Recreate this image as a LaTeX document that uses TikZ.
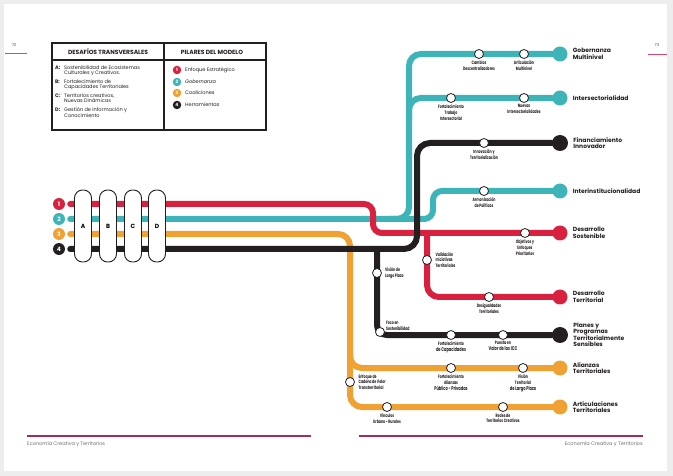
\documentclass[tikz,border=0pt]{standalone}
\usepackage{fontspec}
\setmainfont{Poppins}
\newfontfamily\narrowfont[FakeStretch=0.66]{Poppins}
\usetikzlibrary{positioning,backgrounds}
\definecolor{Rojo}{HTML}{D8213F}
\definecolor{Turq}{HTML}{3DB4B7}
\definecolor{Naranja}{HTML}{F0A133}
\definecolor{Negro}{HTML}{231F20}
\definecolor{Vino}{HTML}{9E2F5B}
\definecolor{Rosa}{HTML}{D9466E}
\definecolor{Gris}{HTML}{EDEDED}
\definecolor{Texto}{HTML}{6F6F6F}
\newcommand\grande{\fontsize{5.4}{5.8}\selectfont}
\tikzset{
  track/.style={line width=6pt,draw=#1,rounded corners=12pt,line cap=round},
  stn/.style={circle,draw=Negro,line width=.8pt,fill=white,minimum size=9pt,inner sep=0pt},
  term/.style={circle,fill=#1,minimum size=15pt,inner sep=0pt},
  num/.style={circle,fill=#1,text=white,minimum size=12pt,inner sep=0pt,font=\bfseries\fontsize{6}{6}\selectfont},
  smallnum/.style={num=#1,minimum size=8.5pt,font=\bfseries\fontsize{4.5}{4.5}\selectfont},
  capsule/.style={draw=Negro,fill=white,line width=.9pt,rounded corners=8pt,minimum width=17pt,minimum height=72pt,inner sep=0pt,font=\bfseries\fontsize{6}{6}\selectfont},
  lab/.style={align=center,inner sep=.5pt,font=\narrowfont\bfseries\fontsize{4.8}{5.8}\selectfont,text=Negro},
  endlab/.style={align=left,inner sep=0pt,font=\bfseries\fontsize{6}{6.5}\selectfont,text=Negro},
  leg/.style={align=left,inner sep=0pt,anchor=north west,font=\fontsize{5}{5.4}\selectfont,text=Negro},
  head/.style={inner sep=0pt,font=\bfseries\fontsize{6}{6}\selectfont,text=Negro},
  foot/.style={inner sep=0pt,font=\fontsize{5}{5}\selectfont,text=Texto}
}

\begin{document}
\begin{tikzpicture}[x=1pt,y=-1pt]
  \useasboundingbox (0,0) rectangle (673,476);
  \node[num=Rojo] (n1) at (59,204) {1};
  \node[num=Turq] (n2) at (59,219) {2};
  \node[num=Naranja] (n3) at (59,234) {3};
  \node[num=Negro] (n4) at (59,249) {4};

  \node[term=Turq] (tgob) at (560,54) {};
  \node[term=Turq] (tsec) at (560,98) {};
  \node[term=Negro,minimum size=16pt] (tfin) at (560,143) {};
  \node[term=Turq] (tinst) at (560,191) {};
  \node[term=Rojo] (tsost) at (560,233) {};
  \node[term=Rojo] (tdter) at (560,297) {};
  \node[term=Negro,minimum size=16pt] (tplan) at (560,335) {};
  \node[term=Naranja] (tali) at (560,368) {};
  \node[term=Naranja] (tart) at (560,407) {};

  \node[endlab,right=5pt of tgob] (lgob) {Gobernanza\\Multinivel};
  \node[endlab,right=5pt of tsec] (lsec) {Intersectorialidad};
  \node[endlab,right=5pt of tfin] (lfin) {Financiamiento\\Innovador};
  \node[endlab,right=5pt of tinst] (linst) {Interinstitucionalidad};
  \node[endlab,right=5pt of tsost] (lsost) {Desarrollo\\Sostenible};
  \node[endlab,right=5pt of tdter] (ldter) {Desarrollo\\Territorial};
  \node[endlab,right=5pt of tplan] (lplan) {Planes y\\Programas\\Territorialmente\\Sensibles};
  \node[endlab,right=5pt of tali] (lali) {Alianzas\\Territoriales};
  \node[endlab,right=5pt of tart] (lart) {Articulaciones\\Territoriales};

  \node[stn] (cambios) at (479,54) {};
  \node[stn] (articul) at (524,54) {};
  \node[stn] (fortint) at (451,98) {};
  \node[stn] (nuevas) at (524,98) {};
  \node[stn] (innov) at (484,143) {};
  \node[stn] (armon) at (484,191) {};
  \node[stn] (objet) at (525,233) {};
  \node[stn] (valid) at (427,260) {};
  \node[stn] (desig) at (489,297) {};
  \node[stn] (vision) at (377,273) {};
  \node[stn] (foco) at (380,332) {};
  \node[stn] (fortcap) at (451,335) {};
  \node[stn] (puesta) at (503,335) {};
  \node[stn] (cadena) at (350,382) {};
  \node[stn] (fortali) at (451,368) {};
  \node[stn] (vislp) at (523,368) {};
  \node[stn] (vinc) at (387,407) {};
  \node[stn] (redes) at (503,407) {};

  \node[lab,below=1pt of cambios] (lcambios) {Cambios\\Descentralizadores};
  \node[lab,below=1pt of articul] (larticul) {Articulación\\Multinivel};
  \node[lab,below=1pt of fortint] (lfortint) {Fortalecimiento\\Trabajo\\Intersectorial};
  \node[lab,below=1pt of nuevas] (lnuevas) {Nuevas\\Intersectorialidades};
  \node[lab,below=1pt of innov] (linnov) {Innovación y\\Territorialización};
  \node[lab,below=1pt of armon] (larmon) {Armonización\\de Políticas};
  \node[lab,below=1pt of objet] (lobjet) {Objetivos y\\Enfoques\\Prioritarios};
  \node[lab,right=3pt of valid,align=left] (lvalid) {Validación\\Iniciativas\\Territoriales};
  \node[lab,below=1pt of desig] (ldesig) {Desigualdades\\Territoriales};
  \node[lab,right=2.5pt of vision,align=left] (lvision) {Visión de\\Largo Plazo};
  \node[lab,above right=-3pt and 2pt of foco,align=left] (lfoco) {Foco en\\Sostenibilidad};
  \node[lab,below=1pt of fortcap] (lfortcap) {Fortalecimiento\\{\grande de Capacidades}};
  \node[lab,below=1pt of puesta] (lpuesta) {Puesta en\\{\grande Valor de las ICC}};
  \node[lab,right=3pt of cadena,align=left] (lcadena) {Enfoque de\\Cadena de Valor\\Transterritorial};
  \node[lab,below=1pt of fortali] (lfortali) {Fortalecimiento\\Alianzas\\{\grande Público - Privadas}};
  \node[lab,below=1pt of vislp] (lvislp) {Visión\\Territorial\\{\grande de Largo Plazo}};
  \node[lab,below=1pt of vinc] (lvinc) {Vínculos\\Urbano - Rurales};
  \node[lab,below=1pt of redes] (lredes) {Redes de\\Territorios Creativos};

  \node[capsule] (capA) at (83,226) {A};
  \node[capsule] (capB) at (108,226) {B};
  \node[capsule] (capC) at (133,226) {C};
  \node[capsule] (capD) at (157,226) {D};

  \begin{pgfonlayer}{background}
    \fill[Gris] (0,0) rectangle (673,476);
    \fill[white] (4,4) rectangle (667,471);
    \coordinate (o1) at (350,234); \coordinate (o2) at (350,407);
    \coordinate (o3) at (350,350); \coordinate (o4) at (350,368);
    \coordinate (c1) at (433,219); \coordinate (c2) at (433,191);
    \coordinate (c3) at (390,219); \coordinate (c4) at (409,219); \coordinate (c5) at (409,54);
    \coordinate (c6) at (409,120); \coordinate (c7) at (409,98);
    \coordinate (r1) at (373,204); \coordinate (r2) at (373,233);
    \coordinate (r3) at (427,233); \coordinate (r4) at (427,297);
    \coordinate (k1) at (417,249); \coordinate (k2) at (417,143);
    \coordinate (k3) at (377,249); \coordinate (k4) at (377,335);
    \draw[track=Naranja,shorten <=5pt] (n3) -- (o1) -- (o2) -- (tart);
    \draw[track=Naranja] (o3) -- (o4) -- (tali);
    \draw[track=Turq,shorten <=5pt,rounded corners=9pt] (n2) -- (c1) -- (c2) -- (tinst);
    \draw[track=Turq] (c3) -- (c4) -- (c5) -- (tgob);
    \draw[track=Turq] (c6) -- (c7) -- (tsec);
    \draw[track=Rojo,shorten <=5pt,rounded corners=9pt] (n1) -- (r1) -- (r2) -- (tsost);
    \draw[track=Rojo] (r3) -- (r4) -- (tdter);
    \draw[track=Negro,shorten <=5pt,rounded corners=13pt] (n4) -- (k1) -- (k2) -- (tfin);
    \draw[track=Negro,rounded corners=10pt] (k3) -- (k4) -- (tplan);
  \end{pgfonlayer}

  \draw[Negro,line width=1.1pt] (52,43) rectangle (266,130);
  \draw[Negro,line width=1.1pt] (164,43) -- (164,130);
  \draw[Negro,line width=1.1pt] (52,60) -- (266,60);
  \node[head] (hdes) at (108,52) {DESAFÍOS TRANSVERSALES};
  \node[head] (hpil) at (212,52) {PILARES DEL MODELO};
  \node[leg,font=\bfseries\fontsize{5}{5.4}\selectfont] (ka) at (55,65.5) {A:};
  \node[leg] (ta) at (64,65.5) {Sostenibilidad de Ecosistemas\\Culturales y Creativos.};
  \node[leg,font=\bfseries\fontsize{5}{5.4}\selectfont] (kb) at (55,79.5) {B:};
  \node[leg] (tb) at (64,79.5) {Fortalecimiento de\\Capacidades Territoriales};
  \node[leg,font=\bfseries\fontsize{5}{5.4}\selectfont] (kc) at (55,93.5) {C:};
  \node[leg] (tc) at (64,93.5) {Territorios creativos,\\Nuevas Dinámicas};
  \node[leg,font=\bfseries\fontsize{5}{5.4}\selectfont] (kd) at (55,107.5) {D:};
  \node[leg] (td) at (64,107.5) {Gestión de Información y\\Conocimiento};
  \node[smallnum=Rojo] (p1) at (177,70) {1};
  \node[smallnum=Turq] (p2) at (177,82) {2};
  \node[smallnum=Naranja] (p3) at (177,93) {3};
  \node[smallnum=Negro] (p4) at (177,105) {4};
  \node[leg,anchor=west] (tp1) at (185,70) {Enfoque Estratégico};
  \node[leg,anchor=west] (tp2) at (185,82) {\itshape Gobernanza};
  \node[leg,anchor=west] (tp3) at (185,93) {Coaliciones};
  \node[leg,anchor=west] (tp4) at (185,105) {Herramientas};

  \node[foot,text=Negro!80,font=\fontsize{4}{4}\selectfont] (pag72) at (14,45) {72};
  \node[foot,text=Negro!80,font=\fontsize{4}{4}\selectfont] (pag73) at (657,45) {73};
  \draw[Rosa,line width=1pt] (5,54) -- (27,54);
  \draw[Rosa,line width=1pt] (648,55) -- (667,55);
  \draw[Vino,line width=2pt] (27,436) -- (311,436);
  \draw[Vino,line width=2pt] (359,436) -- (643,436);
  \node[foot,anchor=west] (pie1) at (27,444) {Economía Creativa y Territorios};
  \node[foot,anchor=east] (pie2) at (643,444) {Economía Creativa y Territorios};
\end{tikzpicture}
\end{document}
